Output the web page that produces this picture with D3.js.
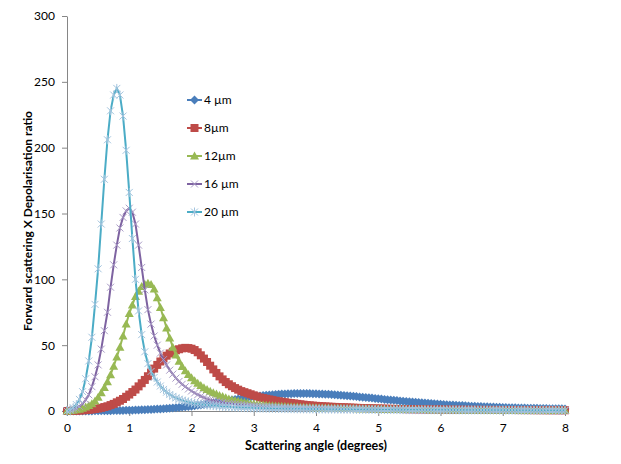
<!DOCTYPE html>
<html lang="en">
<head>
<meta charset="utf-8" />
<title>Forward scattering X Depolarisation ratio</title>
<script src="https://cdn.jsdelivr.net/npm/d3@7"></script>
<style>
  body { margin: 0; background: #fff; }
  svg text { font-family: Lato, "Liberation Sans", sans-serif; fill: #000; }
</style>
</head>
<body>
<svg id="chart" width="621" height="464"></svg>
<script>
// scattering angle grid in degrees, 0 to 8 every 0.05 (161 samples per series)
const angles = d3.range(161).map(i => +(i * 0.05).toFixed(2));

const seriesNames = ["4 µm", "8µm", "12µm", "16 µm", "20 µm"];
const xTicks = [0, 1, 2, 3, 4, 5, 6, 7, 8];
const yTicks = [0, 50, 100, 150, 200, 250, 300];

// values, one per angle
const ratio4 = [
  0, 0.01, 0.02, 0.03, 0.04, 0.05, 0.06, 0.07, 0.09, 0.1, 0.12,
  0.15, 0.18, 0.21, 0.25, 0.3, 0.35, 0.4, 0.45, 0.5, 0.56,
  0.63, 0.7, 0.78, 0.87, 0.96, 1.07, 1.19, 1.32, 1.46, 1.6,
  1.76, 1.93, 2.1, 2.3, 2.5, 2.73, 2.96, 3.2, 3.45, 3.7,
  4.0, 4.3, 4.6, 4.93, 5.25, 5.6, 5.95, 6.3, 6.65, 7.0,
  7.42, 7.84, 8.26, 8.68, 9.1, 9.46, 9.82, 10.18, 10.54, 10.9,
  11.16, 11.42, 11.68, 11.94, 12.2, 12.36, 12.52, 12.68, 12.84, 13.0,
  13.08, 13.15, 13.22, 13.27, 13.3, 13.29, 13.25, 13.2, 13.15, 13.1,
  13.0, 12.88, 12.76, 12.64, 12.5, 12.33, 12.15, 11.97, 11.79, 11.6,
  11.38, 11.16, 10.94, 10.72, 10.5, 10.26, 10.02, 9.78, 9.54, 9.3,
  9.06, 8.82, 8.58, 8.34, 8.1, 7.88, 7.66, 7.44, 7.22, 7.0,
  6.8, 6.6, 6.4, 6.2, 6.0, 5.82, 5.64, 5.46, 5.28, 5.1,
  4.95, 4.8, 4.65, 4.5, 4.35, 4.22, 4.09, 3.96, 3.83, 3.7,
  3.59, 3.48, 3.37, 3.26, 3.15, 3.06, 2.97, 2.88, 2.79, 2.7,
  2.63, 2.56, 2.49, 2.42, 2.35, 2.29, 2.23, 2.17, 2.11, 2.05,
  2.0, 1.95, 1.9, 1.85, 1.8, 1.76, 1.72, 1.68, 1.64, 1.6
];
const ratio8 = [
  0, 0.07, 0.15, 0.25, 0.35, 0.5, 0.7, 0.9, 1.2, 1.5, 1.9,
  2.4, 3.0, 3.6, 4.5, 5.4, 6.6, 7.8, 9.1, 10.8, 12.5,
  14.4, 16.3, 18.7, 21.1, 23.6, 26.4, 29.3, 32.2, 35.0, 37.6,
  39.9, 42.0, 43.7, 45.0, 46.1, 46.9, 47.6, 47.95, 47.8, 47.3,
  46.3, 44.6, 42.3, 39.8, 37.2, 34.4, 31.6, 28.9, 26.3, 24.0,
  22.0, 20.3, 18.8, 17.4, 16.2, 15.1, 14.3, 13.5, 12.7, 11.9,
  11.1, 10.3, 9.8, 9.3, 8.8, 8.3, 7.8, 7.4, 7.0, 6.7,
  6.3, 6.0, 5.75, 5.4, 5.1, 4.8, 4.5, 4.3, 4.1, 3.9,
  3.75, 3.6, 3.45, 3.3, 3.2, 3.1, 3.0, 2.9,
  2.8, 2.7, 2.6, 2.5, 2.4, 2.32, 2.24, 2.16,
  2.08, 2.0, 1.94, 1.88, 1.82, 1.76, 1.7, 1.65,
  1.6, 1.55, 1.5, 1.46, 1.42, 1.38, 1.34, 1.3,
  1.27, 1.24, 1.21, 1.18, 1.15, 1.12, 1.09, 1.06,
  1.04, 1.02, 1.0, 0.98, 0.96, 0.94, 0.92, 0.9,
  0.88, 0.87, 0.86, 0.85, 0.84, 0.83, 0.82, 0.81,
  0.8, 0.79, 0.78, 0.77, 0.76, 0.75, 0.74, 0.73,
  0.72, 0.71, 0.7, 0.69, 0.68, 0.67, 0.66, 0.65,
  0.64, 0.63, 0.62, 0.61, 0.6, 0.59, 0.58, 0.57
];
const ratio12 = [
  0, 0.2, 0.5, 0.9, 1.4, 2.0, 3.0, 4.2, 5.6, 7.6, 10.5,
  13.9, 17.8, 22.3, 27.6, 34, 41, 48.5, 57, 66, 74,
  80.5, 87, 91, 94.5, 96.3, 97, 96, 92.6, 86, 78.6,
  70.8, 63, 55.5, 48.5, 42.5, 37.8, 33.8, 30.5, 27.8, 25.3,
  23.0, 21.0, 19.3, 17.7, 16.3, 15.0, 13.9, 13.0, 11.8, 11.0,
  10.1, 9.2, 8.6, 8.0, 7.5, 6.9, 6.4, 6.0, 5.6, 5.3,
  5.0, 4.8, 4.6, 4.4, 4.2, 4.0, 3.85, 3.7, 3.55, 3.4,
  3.3, 3.2, 3.1, 3.0, 2.9, 2.8, 2.7, 2.6, 2.5, 2.4,
  2.35, 2.3, 2.25, 2.2, 2.15, 2.1, 2.05, 2.0,
  1.96, 1.92, 1.88, 1.84, 1.8, 1.76, 1.72, 1.68,
  1.64, 1.6, 1.56, 1.52, 1.48, 1.44, 1.4, 1.37,
  1.34, 1.31, 1.28, 1.25, 1.22, 1.19, 1.16, 1.13,
  1.1, 1.08, 1.06, 1.04, 1.02, 1.0, 0.98, 0.96,
  0.94, 0.92, 0.9, 0.88, 0.86, 0.84, 0.82, 0.8,
  0.79, 0.78, 0.77, 0.76, 0.75, 0.74, 0.73, 0.72,
  0.71, 0.7, 0.69, 0.68, 0.67, 0.66, 0.65, 0.64,
  0.63, 0.62, 0.61, 0.6, 0.59, 0.58, 0.57, 0.56,
  0.55, 0.54, 0.53, 0.52, 0.51, 0.5, 0.49, 0.48
];
const ratio16 = [
  0, 0.5, 1.1, 2.2, 3.5, 5.5, 8.5, 12.3, 18.5, 26, 35,
  47, 61, 75, 94, 111, 126, 139, 147, 152, 154,
  151, 142, 126, 109, 92, 77, 66, 57, 50, 44,
  39, 35, 31, 28, 25, 22.5, 20.3, 18.4, 16.7, 15.2,
  13.7, 12.4, 11.2, 10.1, 9.2, 8.5, 7.9, 7.4, 6.9, 6.5,
  6.1, 5.8, 5.5, 5.2, 4.9, 4.7, 4.5, 4.3, 4.1, 3.9,
  3.7, 3.6, 3.45, 3.3, 3.2, 3.1, 3.0, 2.9, 2.8, 2.7,
  2.6, 2.5, 2.4, 2.35, 2.25, 2.2, 2.1, 2.05, 2.0, 1.9,
  1.86, 1.82, 1.78, 1.74, 1.7, 1.66, 1.62, 1.58,
  1.54, 1.5, 1.47, 1.44, 1.41, 1.38, 1.35, 1.32,
  1.29, 1.26, 1.23, 1.2, 1.17, 1.14, 1.11, 1.08,
  1.05, 1.03, 1.01, 0.99, 0.97, 0.95, 0.93, 0.91,
  0.89, 0.87, 0.85, 0.83, 0.81, 0.79, 0.77, 0.76,
  0.75, 0.74, 0.73, 0.72, 0.71, 0.7, 0.69, 0.68,
  0.67, 0.66, 0.65, 0.64, 0.63, 0.62, 0.61, 0.6,
  0.59, 0.58, 0.57, 0.56, 0.55, 0.54, 0.53, 0.52,
  0.51, 0.5, 0.5, 0.49, 0.49, 0.48, 0.48, 0.47,
  0.47, 0.46, 0.46, 0.45, 0.45, 0.44, 0.44, 0.43
];
const ratio20 = [
  0, 1.0, 2.5, 4.9, 8.8, 14.7, 24.5, 38, 56, 81, 108,
  142, 176, 206, 228, 240, 245, 240, 224, 198, 166,
  131, 100, 76, 58, 45, 36, 30, 25.5, 22, 19,
  16.4, 14.3, 12.5, 11.1, 9.9, 8.9, 8.1, 7.4, 6.8, 6.2,
  5.8, 5.4, 5.1, 4.8, 4.5, 4.3, 4.1, 3.9, 3.7, 3.5,
  3.35, 3.2, 3.05, 2.9, 2.8, 2.7, 2.6, 2.5, 2.4, 2.3,
  2.25, 2.2, 2.15, 2.1, 2.05, 2.0, 1.95, 1.9, 1.85, 1.8,
  1.77, 1.74, 1.71, 1.68, 1.65, 1.62, 1.6, 1.57, 1.55, 1.52,
  1.5, 1.48, 1.46, 1.44, 1.42, 1.4, 1.38, 1.36,
  1.34, 1.32, 1.3, 1.28, 1.26, 1.24, 1.22, 1.2,
  1.18, 1.16, 1.14, 1.12, 1.1, 1.09, 1.08, 1.07,
  1.06, 1.05, 1.04, 1.03, 1.02, 1.01, 1.0, 0.99,
  0.98, 0.97, 0.96, 0.95, 0.94, 0.93, 0.92, 0.91,
  0.9, 0.89, 0.88, 0.87, 0.86, 0.85, 0.84, 0.83,
  0.82, 0.81, 0.8, 0.79, 0.78, 0.77, 0.76, 0.75,
  0.74, 0.73, 0.72, 0.71, 0.7, 0.69, 0.68, 0.67,
  0.66, 0.65, 0.64, 0.63, 0.62, 0.61, 0.6, 0.59,
  0.58, 0.57, 0.56, 0.55, 0.54, 0.53, 0.52, 0.51
];

const seriesValues = [ratio4, ratio8, ratio12, ratio16, ratio20];

// look of each series (Excel style markers)
const styles = [
  { line: "#4A7EBB", marker: "diamond",  fill: "#4A7EBB", stroke: "none" },
  { line: "#BE4B48", marker: "square",   fill: "#BE4B48", stroke: "none" },
  { line: "#98B954", marker: "triangle", fill: "#98B954", stroke: "none" },
  { line: "#7E63A1", marker: "cross",    fill: "none",    stroke: "#A99BC6" },
  { line: "#4BACC6", marker: "star",     fill: "none",    stroke: "#A3C4DE" }
];
const markerPaths = {
  diamond: "M0,-4.5L4.5,0L0,4.5L-4.5,0Z",
  square: "M-4,-4h8v8h-8Z",
  triangle: "M0,-4.5L4.5,3.5L-4.5,3.5Z",
  cross: "M-3.5,-3.5L3.5,3.5M-3.5,3.5L3.5,-3.5",
  star: "M-3.5,-3.5L3.5,3.5M-3.5,3.5L3.5,-3.5M0,-4.5V4.5"
};

const marginLeft = 67, marginTop = 16, plotW = 498, plotH = 395;

const svg = d3.select("#chart");
const g = svg.append("g").attr("transform", `translate(${marginLeft},${marginTop})`);

const x = d3.scaleLinear().domain([0, 8]).range([0, plotW]);
const y = d3.scaleLinear().domain([0, 300]).range([plotH, 0]);

// axes
const yAxis = g.append("g")
  .call(d3.axisLeft(y).tickValues(yTicks).tickSize(5).tickSizeOuter(0).tickPadding(7));
const xAxis = g.append("g")
  .attr("transform", `translate(0,${plotH})`)
  .call(d3.axisBottom(x).tickValues(xTicks).tickSize(5).tickSizeOuter(0).tickPadding(7));

[xAxis, yAxis].forEach(a => {
  a.select(".domain").attr("stroke", "#868686");
  a.selectAll(".tick line").attr("stroke", "#868686");
  a.selectAll(".tick text").attr("font-size", 12).attr("font-family", "Lato, sans-serif").attr("fill", "#000");
});

// series
const line = d3.line()
  .x((d, i) => x(angles[i]))
  .y(d => y(d));

seriesValues.forEach((vals, k) => {
  const st = styles[k];
  const sg = g.append("g").attr("class", "series");
  sg.append("path")
    .attr("d", line(vals))
    .attr("fill", "none")
    .attr("stroke", st.line)
    .attr("stroke-width", 2);
  sg.selectAll("path.mark")
    .data(vals)
    .join("path")
    .attr("class", "mark")
    .attr("d", markerPaths[st.marker])
    .attr("transform", (d, i) => `translate(${x(angles[i])},${y(d)})`)
    .attr("fill", st.fill)
    .attr("stroke", st.stroke)
    .attr("stroke-width", 1);
});

// legend
const legend = svg.append("g").attr("transform", "translate(187,100)");
seriesNames.forEach((name, k) => {
  const st = styles[k];
  const item = legend.append("g").attr("transform", `translate(0,${k * 28})`);
  item.append("line")
    .attr("x1", 0).attr("x2", 15)
    .attr("stroke", st.line).attr("stroke-width", 2);
  item.append("path")
    .attr("d", markerPaths[st.marker])
    .attr("transform", "translate(7.5,0)")
    .attr("fill", st.fill)
    .attr("stroke", st.stroke);
  item.append("text")
    .attr("x", 17)
    .attr("dy", "0.36em")
    .attr("font-size", 12)
    .text(name);
});

// axis titles
svg.append("text")
  .attr("x", marginLeft + plotW / 2)
  .attr("y", 450)
  .attr("text-anchor", "middle")
  .attr("font-size", 12.5)
  .attr("font-weight", "bold")
  .text("Scattering angle (degrees)");

svg.append("text")
  .attr("transform", "translate(32,221) rotate(-90)")
  .attr("text-anchor", "middle")
  .attr("font-size", 12)
  .attr("font-weight", "bold")
  .text("Forward scattering X Depolarisation ratio");
</script>
</body>
</html>
